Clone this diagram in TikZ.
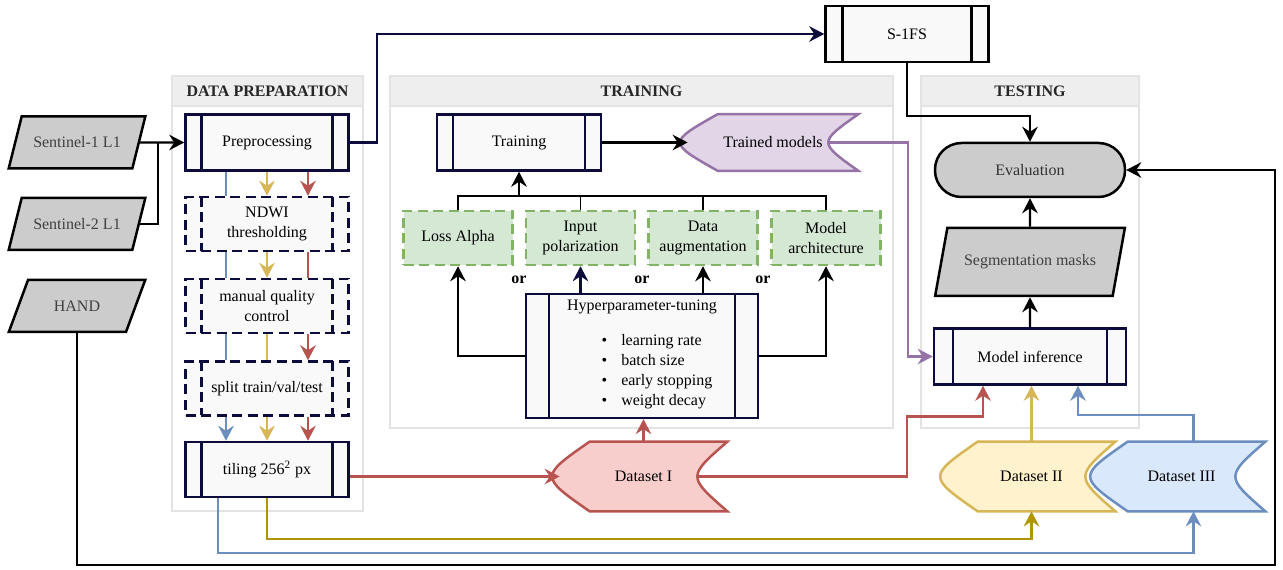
\documentclass[tikz,border=0pt]{standalone}
\usepackage{fontspec}
\setmainfont{Liberation Serif}
\usetikzlibrary{arrows.meta,shapes.geometric,calc}

\definecolor{navy}{RGB}{12,12,60}
\definecolor{boxfill}{HTML}{F9F9F9}
\definecolor{greyfill}{HTML}{CCCCCC}
\definecolor{panelline}{HTML}{E3E3E3}
\definecolor{panelfill}{HTML}{EEEEEE}
\definecolor{greenfill}{HTML}{D5E8D4}
\definecolor{greenline}{HTML}{82B366}
\definecolor{purplefill}{HTML}{E1D5E7}
\definecolor{purpleline}{HTML}{9673A6}
\definecolor{redfill}{HTML}{F8CECC}
\definecolor{redline}{HTML}{B85450}
\definecolor{yellowfill}{HTML}{FFF2CC}
\definecolor{yellowline}{HTML}{D6B656}
\definecolor{darkyellow}{HTML}{B09500}
\definecolor{bluefill}{HTML}{DAE8FC}
\definecolor{blueline}{HTML}{6C8EBF}

\pgfdeclarelayer{panels}
\pgfdeclarelayer{stores}
\pgfsetlayers{panels,stores,main}

\tikzset{
    barsep/.initial=3.2mm,
    procbar/.style={navy, line width=0.5mm},
    process/.style={draw=navy, fill=boxfill, line width=0.5mm,
        minimum width=32.6mm, minimum height=11.2mm, align=center,
        path picture={
            \draw[procbar]
                ([xshift=\pgfkeysvalueof{/tikz/barsep}]path picture bounding box.north west) --
                ([xshift=\pgfkeysvalueof{/tikz/barsep}]path picture bounding box.south west)
                ([xshift=-\pgfkeysvalueof{/tikz/barsep}]path picture bounding box.north east) --
                ([xshift=-\pgfkeysvalueof{/tikz/barsep}]path picture bounding box.south east);
        }},
    dashproc/.style={process, minimum height=10.8mm, dash pattern=on 2mm off 1.1mm,
        procbar/.append style={dash pattern=on 2mm off 1.1mm}},
    sensor/.style={trapezium, trapezium left angle=63, trapezium right angle=117,
        trapezium stretches=true, draw=black, fill=greyfill, line width=0.5mm,
        minimum width=27.4mm, minimum height=10.4mm, text=black!75},
    terminal/.style={rectangle, rounded corners=5.3mm, draw=black, fill=greyfill,
        line width=0.5mm, minimum width=38mm, minimum height=10.8mm, text=black!80},
    choice/.style={draw=greenline, fill=greenfill, line width=0.5mm,
        dash pattern=on 2mm off 1.1mm, minimum width=21.8mm, minimum height=10.8mm,
        align=center},
    store/.style={minimum width=33.4mm, minimum height=13.8mm, inner sep=0pt},
    panel/.style={draw=panelline, line width=0.45mm},
    panelhead/.style={panel, fill=panelfill},
    paneltitle/.style={font=\bfseries\fontsize{9.1}{11}\selectfont, text=black!85},
    orlabel/.style={font=\bfseries\fontsize{9.1}{11}\selectfont},
    link/.style={draw=black, line width=0.45mm},
    thinlink/.style={draw=black, line width=0.28mm},
    navylink/.style={draw=navy, line width=0.45mm},
    rline/.style={draw=redline, line width=0.42mm},
    yline/.style={draw=yellowline, line width=0.42mm},
    bline/.style={draw=blueline, line width=0.42mm},
    pline/.style={draw=purpleline, line width=0.42mm},
    dyline/.style={draw=darkyellow, line width=0.42mm},
}

% data storage outline around a node
\newcommand{\datastore}[2]{%
    \draw[line width=0.5mm, #2]
        ([xshift=6mm]#1.north west) -- (#1.north east)
        .. controls ([xshift=-8mm]#1.east) .. (#1.south east)
        -- ([xshift=6mm]#1.south west)
        .. controls ([xshift=-4mm]#1.west) .. cycle;
}

\begin{document}
\begin{tikzpicture}[x=0.2mm, y=-0.2mm, font=\fontsize{9.1}{11.4}\selectfont,
    >={Stealth[length=3mm, width=3.1mm, inset=1mm]}]
    \useasboundingbox (0,0) rectangle (1283,570);

    % panels
    \begin{pgfonlayer}{panels}
        \draw[panel] (172,76) rectangle (363,511)
            (390,76) rectangle (893,428)
            (921,76) rectangle (1139,428);
        \draw[panelhead] (172,76) rectangle (363,106)
            (390,76) rectangle (893,106)
            (921,76) rectangle (1139,106);
    \end{pgfonlayer}
    \node[paneltitle] (tprep) at (267.5,91) {DATA PREPARATION};
    \node[paneltitle] (ttrain) at (641.5,91) {TRAINING};
    \node[paneltitle] (ttest) at (1030,91) {TESTING};

    % inputs
    \node[sensor] (sen1) at (77,142.5) {Sentinel-1 L1};
    \node[sensor] (sen2) at (77,224) {Sentinel-2 L1};
    \node[sensor] (hand) at (77,306) {HAND};

    % data preparation
    \node[process] (prep) at (267,142.5) {Preprocessing};
    \node[dashproc] (ndwi) at (267,224) {NDWI\\thresholding};
    \node[dashproc] (qual) at (267,306) {manual quality\\control};
    \node[dashproc] (split) at (267,388.5) {split train/val/test};
    \node[process, minimum height=11mm] (tile) at (267,469.5) {tiling 256\textsuperscript{2} px};

    \node[process, draw=black, procbar/.append style={black}, barsep=3.4mm] (s1fs) at (907,34) {S-1FS};

    % training
    \node[process, minimum width=32.8mm] (train) at (519,142.5) {Training};
    \node[store, minimum width=34mm, minimum height=11.2mm] (trained) at (773,142.5) {Trained models};
    \foreach \n/\x/\t in {lossa/458/Loss Alpha, inpol/580.5/Input\\polarization,
        daug/703/Data\\augmentation, march/826/Model\\architecture}
        \node[choice] (\n) at (\x,238) {\t};
    \node[process, minimum width=46.4mm, minimum height=24.4mm, barsep=4.6mm] (hyper) at (642,356)
        {Hyperparameter-tuning\\[3.2mm]\hspace{6mm}\begin{tabular}{@{}l@{\hspace{2.8mm}}l@{}}
        \textbullet & learning rate\\ \textbullet & batch size\\
        \textbullet & early stopping\\ \textbullet & weight decay\end{tabular}};
    \foreach \x [count=\i] in {519,642,763}
        \node[orlabel] (or\i) at (\x,280) {or};

    % datasets
    \node[store] (ds1) at (643.5,476.5) {Dataset I};
    \node[store] (ds2) at (1031.5,476.5) {Dataset II};
    \node[store] (ds3) at (1181.5,476.5) {Dataset III};

    % testing
    \node[terminal] (eval) at (1030,170) {Evaluation};
    \node[trapezium, trapezium left angle=68, trapezium right angle=112,
        trapezium stretches=true, draw=black, fill=greyfill, line width=0.5mm,
        minimum width=38.2mm, minimum height=13.6mm, text=black!75] (seg) at (1030,262) {Segmentation masks};
    \node[process, minimum width=38.4mm, barsep=3.8mm] (minf) at (1030,356.5) {Model inference};

    \begin{pgfonlayer}{stores}
        \datastore{trained}{draw=purpleline, fill=purplefill}
        \datastore{ds1}{draw=redline, fill=redfill}
        \datastore{ds2}{draw=yellowline, fill=yellowfill}
        \datastore{ds3}{draw=blueline, fill=bluefill}
    \end{pgfonlayer}

    % inputs to preprocessing
    \coordinate (join) at (158,142.5);
    \draw[link,->] (sen1.east) -- (prep.west);
    \draw[link] (sen2.east) -| (join);
    \draw[navylink,->] (prep.east) -- ++(27,0) |- (s1fs.west);
    \draw[link,->] (s1fs.south) -- ++(0,53) -| (eval.north);
    \coordinate (corner) at (1275,565);
    \draw[link,->] (hand.south) |- (corner) |- (eval.east);

    % data preparation chain
    \foreach \a/\b/\bt/\yt/\rt in {prep/ndwi/-/->/->, ndwi/qual/-/->/-,
        qual/split/-/-/->, split/tile/->/->/->} {
        \draw[bline,\bt] ([xshift=-8.2mm]\a.south) -- ([xshift=-8.2mm]\b.north);
        \draw[yline,\yt] (\a.south) -- (\b.north);
        \draw[rline,\rt] ([xshift=8.2mm]\a.south) -- ([xshift=8.2mm]\b.north);
    }
    \draw[rline,->] (tile.east |- ds1.west) -- (ds1.west);
    \draw[dyline,->] (tile.south) -- ++(0,41) -| (ds2.south);
    \draw[bline,->] ([xshift=-9.8mm]tile.south) -- ++(0,55) -| ([xshift=2.4mm]ds3.south);

    % training
    \draw[link,->] (train.east) -- (trained.west);
    \coordinate (bus) at ($(lossa.north)+(0,-14)$);
    \draw[link] (lossa.north) -- (bus) -| (march.north);
    \draw[link,->] (bus -| train.south) -- (train.south);
    \draw[thinlink] (inpol.north) -- (inpol.north |- bus)
        (daug.north) -- (daug.north |- bus);
    \draw[link,->] (hyper.west) -| (lossa.south);
    \draw[link,->] (hyper.east) -| (march.south);
    \draw[navylink,->] (inpol.south |- hyper.north) -- (inpol.south);
    \draw[link,->] (daug.south |- hyper.north) -- (daug.south);
    \draw[rline,->] (ds1.north) -- (ds1.north |- hyper.south);

    % testing
    \draw[pline,->] ([xshift=-6mm]trained.east) -- ++(80,0) |- (minf.west);
    \draw[rline,->] ([xshift=-6mm]ds1.east) -- ++(210,0) -- ++(0,-60) -| ([xshift=-9.4mm]minf.south);
    \draw[yline,->] (ds2.north) -- (ds2.north |- minf.south);
    \draw[bline,->] ([xshift=2.4mm]ds3.north) -- ++(0,-27) -| ([xshift=9.6mm]minf.south);
    \draw[link,->] (minf.north) -- (seg.south);
    \draw[link,->] (seg.north) -- (eval.south);
\end{tikzpicture}
\end{document}
